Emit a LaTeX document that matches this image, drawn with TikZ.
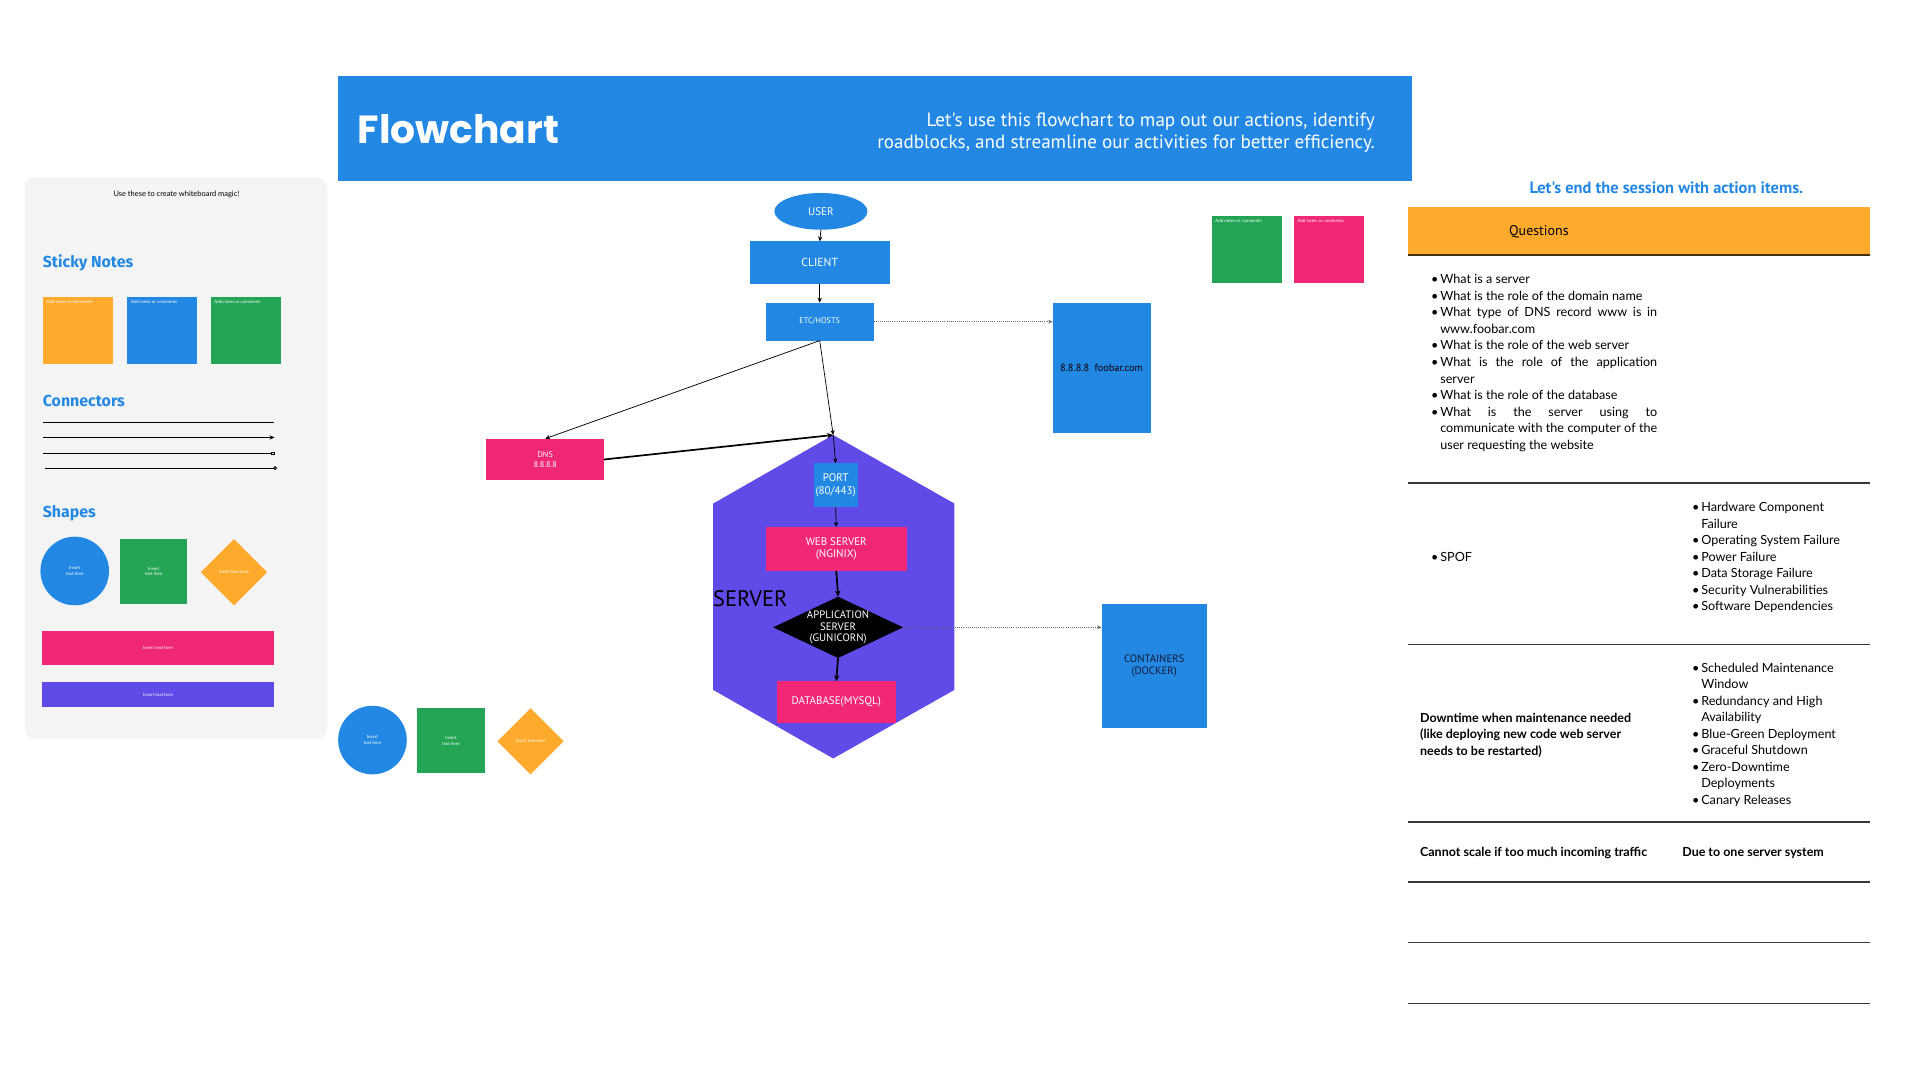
\documentclass[tikz,border=0pt]{standalone}
\usepackage{fontspec}
\setmainfont{Lato}
\newfontfamily\ptsans{PT Sans}
\newfontfamily\pop{Poppins}
\newfontfamily\fira{Fira Sans}
\usetikzlibrary{shapes.geometric,arrows.meta}
\definecolor{blueC}{RGB}{35,136,228}
\definecolor{pinkC}{RGB}{240,39,117}
\definecolor{greenC}{RGB}{36,165,85}
\definecolor{orangeC}{RGB}{254,170,45}
\definecolor{purpC}{RGB}{96,75,232}
\definecolor{panelC}{RGB}{244,244,244}
\definecolor{lineC}{RGB}{55,55,55}
\definecolor{navyC}{RGB}{20,25,50}
\definecolor{brownC}{RGB}{70,50,10}
\newcommand\fsz[2]{\fontsize{#1}{#2}\selectfont}
\newcommand\bul{\makebox[7.5pt][l]{•}}
\newcommand\ind{\hspace*{7.5pt}}
\newcommand\jl[1]{\makebox[177pt][s]{#1}}
\tikzset{
  every node/.style={inner sep=0pt,outer sep=0pt},
  box/.style={rectangle,draw=none},
  lbl/.style={text=white,align=center,font=\ptsans\fsz{9}{10}},
  conn/.style={-{Stealth[length=4pt,width=3.5pt]},line width=0.6pt,black},
  thickconn/.style={-{Stealth[length=5pt,width=4.5pt]},line width=1.4pt,black},
  dotconn/.style={-{Stealth[length=3.5pt,width=3pt]},densely dotted,line width=0.7pt,black!60},
  sticky/.style={box,anchor=north west,minimum width=57,minimum height=55},
  stickytxt/.style={anchor=north west,text=white,font=\fsz{3.6}{4}},
  tiny/.style={text=white,align=center,font=\fsz{3.6}{4.6}},
  tblline/.style={lineC,line width=1.2pt},
  tbltxt/.style={align=left,font=\fsz{10.3}{13.5}},
  boldtxt/.style={font=\bfseries\fsz{10.2}{13.5}},
  heading/.style={anchor=west,text=blueC,font=\fira\bfseries\fsz{13}{15}}
}
\begin{document}
\begin{tikzpicture}[x=1pt,y=-1pt]
\useasboundingbox[fill=white] (0,0) rectangle (1567,881.4);

% ---------- left panel ----------
\path[fill=panelC,rounded corners=8pt] (20,145) rectangle (267,603);
\node[font=\fsz{6.1}{7}] (magic) at (144,158.5) {Use these to create whiteboard magic!};
\node[heading] (hsticky) at (35,214.5) {Sticky Notes};
\node[sticky,fill=orangeC] (sn1) at (35,242) {};
\node[sticky,fill=blueC] (sn2) at (104,242) {};
\node[sticky,fill=greenC] (sn3) at (172,242) {};
\node[stickytxt] (sn1t) at ([shift={(3,3)}]sn1.north west) {Add notes or comments};
\node[stickytxt] (sn2t) at ([shift={(3,3)}]sn2.north west) {Add notes or comments};
\node[stickytxt] (sn3t) at ([shift={(3,3)}]sn3.north west) {Add notes or comments};
\node[heading] (hconn) at (35,327.5) {Connectors};
\coordinate (c1a) at (35,345); \coordinate (c1b) at (224,345);
\coordinate (c2a) at (35,357); \coordinate (c2b) at (224,357);
\coordinate (c3a) at (35,370); \coordinate (c3b) at (224,370);
\coordinate (c4a) at (37,382); \coordinate (c4b) at (226,382);
\draw[line width=0.8pt] (c1a) -- (c1b);
\draw[line width=0.7pt,-{Stealth[length=4pt,width=3.5pt]}] (c2a) -- (c2b);
\draw[line width=0.7pt,-{Square[open,length=3pt,width=3pt]}] (c3a) -- (c3b);
\draw[line width=0.7pt,-{Circle[open,length=3pt]}] (c4a) -- (c4b);
\node[heading] (hshapes) at (35,418.5) {Shapes};
\node[circle,fill=blueC,minimum size=56,tiny] (lcirc) at (61,466) {Insert\\text here};
\node[box,fill=greenC,minimum width=55,minimum height=53,tiny] (lsq) at (125.5,466.5) {Insert\\text here};
\node[diamond,fill=orangeC,minimum size=54,tiny] (ldia) at (191,467) {Insert text here};
\node[box,fill=pinkC,minimum width=190,minimum height=28,tiny] (lpink) at (129,529) {Insert text here};
\node[box,fill=purpC,minimum width=190,minimum height=20,tiny] (lpurp) at (129,567) {Insert text here};

% ---------- header ----------
\node[box,fill=blueC,anchor=north west,minimum width=876,minimum height=86] (hdr) at (276,62) {};
\node[anchor=west,text=white,font=\pop\bfseries\fsz{32}{38}] (title) at (292,105.5) {Flowchart};
\node[anchor=east,align=right,text=white,font=\ptsans\fsz{15.6}{18}] (desc) at (1122,108)
  {Let's use this flowchart to map out our actions, identify\\roadblocks, and streamline our activities for better efficiency.};

% ---------- flowchart ----------
\path[fill=purpC] (680,355) -- (779,411) -- (779,563) -- (680,619) -- (582,563) -- (582,411) -- cycle;
\coordinate (hextop) at (680,355);
\node[anchor=west,font=\ptsans\fsz{18.3}{21}] (srv) at (582,488.5) {SERVER};

\node[ellipse,fill=blueC,minimum width=76,minimum height=30,lbl,font=\ptsans\fsz{9}{11}] (user) at (670,172.5) {USER};
\node[box,fill=blueC,minimum width=114,minimum height=35,lbl,font=\ptsans\fsz{9.5}{11}] (client) at (669,214.5) {CLIENT};
\node[box,fill=blueC,minimum width=88,minimum height=31,lbl,font=\ptsans\fsz{6.7}{8}] (etc) at (669,262.5) {ETC/HOSTS};
\node[box,fill=blueC,minimum width=80,minimum height=106,align=center,font=\ptsans\fsz{8.4}{10}] (ip) at (899,300) {8.8.8.8\ \ foobar.com};
\node[box,fill=pinkC,minimum width=96,minimum height=34,lbl,font=\ptsans\fsz{6.7}{8}] (dns) at (445,375) {DNS\\8.8.8.8};
\node[box,fill=blueC,minimum width=36,minimum height=36,lbl] (port) at (682,396) {PORT\\(80/443)};
\node[box,fill=pinkC,minimum width=115,minimum height=36,lbl] (web) at (682.5,448) {WEB SERVER\\(NGINIX)};
\node[diamond,fill=black,minimum width=106,minimum height=50] (app) at (684,512) {};
\node[lbl,font=\ptsans\fsz{8.8}{9.6}] (apptxt) at (684,512) {APPLICATION\\SERVER\\(GUNICORN)};
\node[box,fill=pinkC,minimum width=97,minimum height=34,lbl] (db) at (682.5,573) {DATABASE(MYSQL)};
\node[box,fill=blueC,minimum width=86,minimum height=101,align=center,text=navyC,font=\ptsans\fsz{8.8}{10}] (cont) at (942,543.5) {CONTAINERS\\(DOCKER)};

\draw[conn] (user.south) -- (client.north);
\draw[conn] (client.south) -- (etc.north);
\draw[dotconn] (etc.east) -- (etc.east -| ip.west);
\draw[conn] (etc.south) -- (dns.north);
\draw[conn] (etc.south) -- (hextop);
\draw[thickconn] (dns.east) -- (hextop);
\draw[conn] (hextop) -- (port.north);
\draw[conn] (port.south) -- (web.north);
\draw[thickconn] (web.south) -- (app.north);
\draw[thickconn] (app.south) -- (db.north);
\draw[dotconn] (app.east) -- (app.east -| cont.west);

% bottom shapes
\node[circle,fill=blueC,minimum size=56,tiny] (bcirc) at (304,604) {Insert\\text here};
\node[box,fill=greenC,minimum width=56,minimum height=53,tiny] (bsq) at (368,604.5) {Insert\\text here};
\node[diamond,fill=orangeC,minimum size=54,tiny] (bdia) at (433,605) {Insert text here};

% top-right sticky notes
\node[sticky,fill=greenC] (sn4) at (989,176) {};
\node[sticky,fill=pinkC] (sn5) at (1056,176) {};
\node[stickytxt] (sn4t) at ([shift={(3,3)}]sn4.north west) {Add notes or comments};
\node[stickytxt] (sn5t) at ([shift={(3,3)}]sn5.north west) {Add notes or comments};

% ---------- table ----------
\node[text=blueC,font=\ptsans\bfseries\fsz{13.4}{16}] (ttitle) at (1360,153.5) {Let's end the session with action items.};
\node[box,fill=orangeC,anchor=north west,minimum width=377,minimum height=39] (qh) at (1149,169) {};
\node[font=\ptsans\fsz{11.4}{13}] (qtxt) at (1256,189.5) {Questions};
\coordinate (hb1) at (1149,208); \coordinate (hb2) at (1526,208);
\draw[line width=1.5pt,brownC] (hb1) -- (hb2);

\node[tbltxt,anchor=north west] (qlist) at (1168,224) {%
\bul What is a server\\
\bul What is the role of the domain name\\
\bul \jl{What type of DNS record www is in}\\
\ind www.foobar.com\\
\bul What is the role of the web server\\
\bul \jl{What is the role of the application}\\
\ind server\\
\bul What is the role of the database\\
\bul \jl{What is the server using to}\\
\ind \jl{communicate with the computer of the}\\
\ind user requesting the website};

\node[tbltxt,anchor=west] (spof) at (1168,454.5) {\bul SPOF};
\node[tbltxt,anchor=north west] (spoflist) at (1381,410) {%
\bul Hardware Component\\
\ind Failure\\
\bul Operating System Failure\\
\bul Power Failure\\
\bul Data Storage Failure\\
\bul Security Vulnerabilities\\
\bul Software Dependencies};

\node[tbltxt,anchor=north west,boldtxt] (down) at (1159,582) {%
Downtime when maintenance needed\\
(like deploying new code web server\\
needs to be restarted)};
\node[tbltxt,anchor=north west] (downlist) at (1381,541) {%
\bul Scheduled Maintenance\\
\ind Window\\
\bul Redundancy and High\\
\ind Availability\\
\bul Blue-Green Deployment\\
\bul Graceful Shutdown\\
\bul Zero-Downtime\\
\ind Deployments\\
\bul Canary Releases};

\node[anchor=west,boldtxt] (scale) at (1159,696.5) {Cannot scale if too much incoming traffic};
\node[anchor=west,boldtxt] (due) at (1373,696.5) {Due to one server system};

\foreach \yy/\nm in {394/a,526/b,671/c,720/d,769/e,819/f}{
  \coordinate (tl\nm) at (1149,\yy); \coordinate (tr\nm) at (1526,\yy);
  \draw[tblline] (tl\nm) -- (tr\nm);
}
\end{tikzpicture}
\end{document}
